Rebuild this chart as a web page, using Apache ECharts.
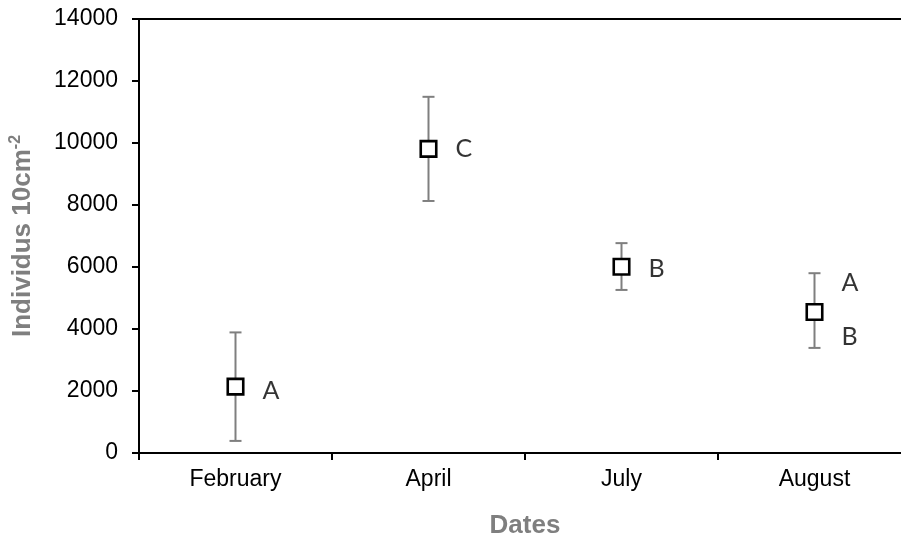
<!DOCTYPE html>
<html><head><meta charset="utf-8">
<script src="https://cdn.jsdelivr.net/npm/echarts@6/dist/echarts.min.js"></script>
<style>html,body{margin:0;padding:0;background:#fff;overflow:hidden}#c{width:901px;height:542px}</style>
</head><body><div id="c"></div>
<script>
var categories = ['February', 'April', 'July', 'August'];
var means = [2140, 9810, 6010, 4550];
var lows = [390, 8130, 5260, 3390];
var highs = [3890, 11490, 6770, 5800];
var letterCats = [0, 1, 2, 3, 3];
var letterValues = [2010, 9810, 5950, 5470, 3740];
var letterTexts = ['A', 'C', 'B', 'A', 'B'];
var yTicks = [0, 2000, 4000, 6000, 8000, 10000, 12000, 14000];

var chart = echarts.init(document.getElementById('c'));
var errData = categories.map(function (c, i) { return [i, lows[i], highs[i]]; });
var letterData = letterCats.map(function (c, i) { return { value: [c, letterValues[i]], name: letterTexts[i] }; });

chart.setOption({
  animation: false,
  grid: { left: 139, top: 19, width: 772, height: 434, outerBoundsMode: 'none', containLabel: false },
  xAxis: [{
    type: 'category', data: categories,
    name: 'Dates', nameLocation: 'middle', nameGap: 60,
    nameTextStyle: { fontFamily: 'Liberation Sans', fontWeight: 'bold', fontSize: 26, color: '#7f7f7f' },
    axisLine: { lineStyle: { color: '#000', width: 2 } },
    axisTick: { show: true, length: 7, lineStyle: { color: '#000', width: 2 } },
    axisLabel: { fontFamily: 'Liberation Sans', fontSize: 23, color: '#000', margin: 15 },
    splitLine: { show: false }
  }, {
    type: 'category', data: categories, position: 'top',
    axisLine: { show: true, lineStyle: { color: '#000', width: 2 } },
    axisTick: { show: false }, axisLabel: { show: false }, splitLine: { show: false }
  }],
  yAxis: {
    type: 'value', min: yTicks[0], max: yTicks[yTicks.length - 1], interval: 2000,
    name: '{m|Individus 10cm}{s|-2}', nameLocation: 'middle', nameGap: 101,
    nameTextStyle: {
      rich: {
        m: { fontFamily: 'Liberation Sans', fontWeight: 'bold', fontSize: 26, color: '#7f7f7f', lineHeight: 30 },
        s: { fontFamily: 'Liberation Sans', fontWeight: 'bold', fontSize: 16, color: '#7f7f7f', verticalAlign: 'top', lineHeight: 30 }
      }
    },
    axisLine: { show: true, lineStyle: { color: '#000', width: 2 } },
    axisTick: { show: true, length: 7, lineStyle: { color: '#000', width: 2 } },
    axisLabel: { fontFamily: 'Liberation Sans', fontSize: 23, color: '#000', margin: 21,
      formatter: function (v) { return String(v); } },
    splitLine: { show: false }
  },
  series: [
    {
      type: 'custom', data: errData, z: 2,
      renderItem: function (params, api) {
        var x = api.value(0);
        var lo = api.coord([x, api.value(1)]);
        var hi = api.coord([x, api.value(2)]);
        var hw = 6;
        var st = { stroke: '#7f7f7f', lineWidth: 2 };
        return { type: 'group', children: [
          { type: 'line', shape: { x1: lo[0], y1: lo[1], x2: hi[0], y2: hi[1] }, style: st },
          { type: 'line', shape: { x1: lo[0] - hw, y1: lo[1], x2: lo[0] + hw, y2: lo[1] }, style: st },
          { type: 'line', shape: { x1: hi[0] - hw, y1: hi[1], x2: hi[0] + hw, y2: hi[1] }, style: st }
        ] };
      }
    },
    {
      type: 'scatter', data: means, z: 5,
      symbol: 'rect', symbolSize: 15.5,
      itemStyle: { color: '#fff', borderColor: '#000', borderWidth: 2.6, opacity: 1 }
    },
    {
      type: 'scatter', data: letterData, symbolSize: 0, z: 6,
      label: { show: true, position: 'right', distance: 0, offset: [27, 0], formatter: '{b}',
        fontFamily: 'Lato', fontSize: 25, color: '#000' }
    }
  ]
});
</script></body></html>
